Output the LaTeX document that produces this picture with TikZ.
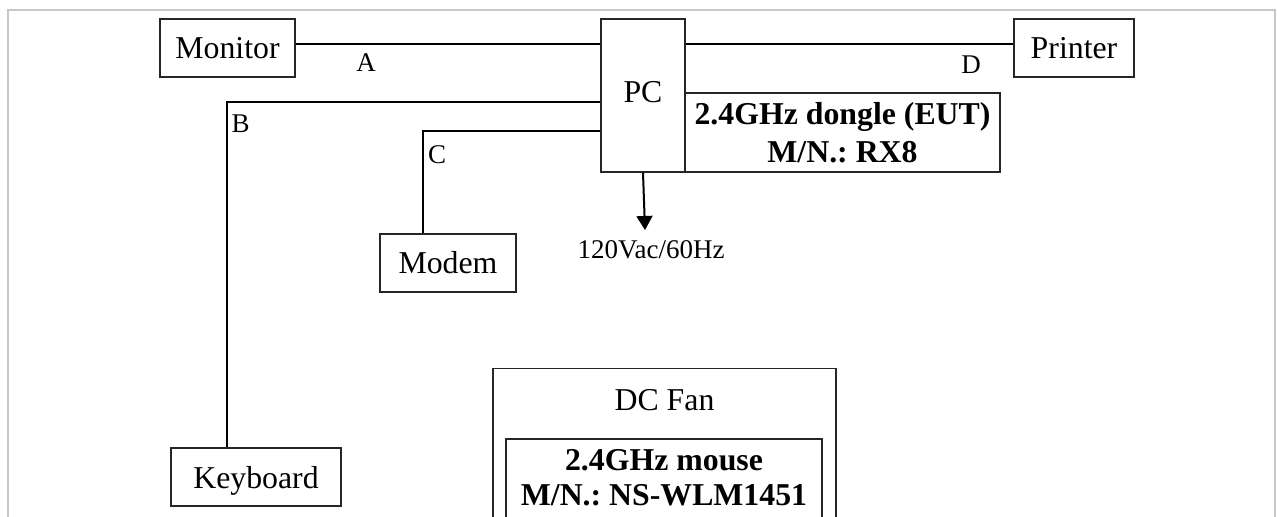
\documentclass[tikz,border=0pt]{standalone}
\usepackage{fontspec}
\setmainfont{Liberation Serif}
\usepackage{xcolor}
\usetikzlibrary{arrows.meta,calc}
\frenchspacing

\begin{document}
\begin{tikzpicture}[
  x=0.5pt,y=-0.5pt,
  box/.style={draw=black!85, line width=0.75pt, inner sep=0pt, font=\fontsize{15.9}{19}\selectfont},
  unit/.style={box, text height=11pt, text depth=0pt},
  eut/.style={box, align=center, font=\fontsize{15.9}{19}\selectfont\bfseries},
  tag/.style={inner sep=0pt, anchor=base, font=\fontsize{13.5}{16}\selectfont},
  wire/.style={line width=1pt, draw=black},
  arrow/.style={wire, -{Triangle[length=7pt,width=8pt]}},
  frame/.style={line width=1pt, draw=black!22}
]
\useasboundingbox (0,0) rectangle (1277,517);
\clip (0,0) rectangle (1277,517);
\draw[frame] (8,540) |- (1275,10) -- (1275,540);
\node[unit, minimum width=67.5pt, minimum height=29pt] (monitor) at (227.5,48) {Monitor};
\node[unit, minimum width=42pt, minimum height=76.5pt, text depth=3.5pt] (pc) at (643,95.5) {PC};
\node[eut, minimum width=157.5pt, minimum height=39.5pt] (dongle) at (842.5,132.5) {2.4GHz dongle (EUT)\\M/N.: RX8};
\node[unit, minimum width=60pt, minimum height=29pt] (printer) at (1074,48) {Printer};
\node[unit, minimum width=68pt, minimum height=29pt] (modem) at (448,263) {Modem};
\node[unit, minimum width=85pt, minimum height=29pt] (keyboard) at (256,477) {Keyboard};
\node[box, anchor=north, minimum width=171.5pt, minimum height=100pt,
  label={[inner sep=0pt, anchor=north, yshift=-10.5pt, font=\fontsize{15.9}{19}\selectfont]north:DC Fan}] (fan) at (664.5,368) {};
\node[box, anchor=north, minimum width=158pt, minimum height=60pt,
  label={[inner sep=0pt, anchor=north, yshift=-5.5pt, align=center, font=\fontsize{15.9}{17.5}\selectfont\bfseries]north:2.4GHz mouse\\M/N.: NS-WLM1451}] (mouse) at (664,438) {};
\coordinate (mains) at (645,230);
\node[tag] (lblA) at (366,72) {A};
\node[tag] (lblB) at (240.5,132.7) {B};
\node[tag] (lblC) at (437,164) {C};
\node[tag] (lblD) at (971,74) {D};
\node[tag] (mainslbl) at (651,259) {120Vac/60Hz};
\draw[wire] ([yshift=2pt]monitor.east) -- ([yshift=2pt]monitor.east -| pc.west);
\draw[wire] ([yshift=2pt]printer.west) -- ([yshift=2pt]printer.west -| pc.east);
\draw[wire] ([yshift=-42pt]pc.north west) -| ([xshift=-14.5pt]keyboard.north);
\draw[wire] ([yshift=-56.5pt]pc.north west) -| ([xshift=-12.5pt]modem.north);
\draw[arrow] (pc.south) -- (mains);
\end{tikzpicture}
\end{document}
